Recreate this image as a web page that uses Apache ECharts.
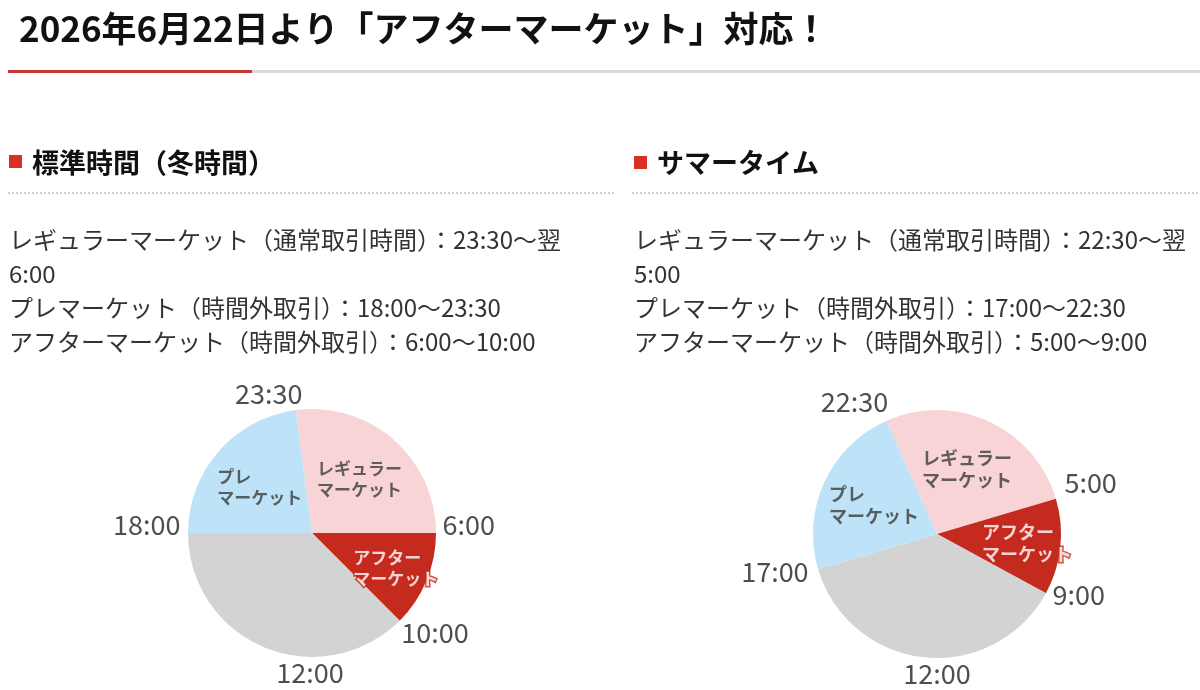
<!DOCTYPE html>
<html>
<head>
<meta charset="utf-8">
<script src="https://cdn.jsdelivr.net/npm/echarts@6/dist/echarts.min.js"></script>
<style>
html, body { margin: 0; padding: 0; background: #fff; }
#main { width: 1200px; height: 690px; }
</style>
</head>
<body>
<div id="main"></div>
<script>
// ---- texts ----
var pageTitle = '2026年6月22日より「アフターマーケット」対応！';
var sectionTitles = ['標準時間（冬時間）', 'サマータイム'];
var winterLines = [
    'レギュラーマーケット（通常取引時間）：23:30〜翌',
    '6:00',
    'プレマーケット（時間外取引）：18:00〜23:30',
    'アフターマーケット（時間外取引）：6:00〜10:00'
];
var summerLines = [
    'レギュラーマーケット（通常取引時間）：22:30〜翌',
    '5:00',
    'プレマーケット（時間外取引）：17:00〜22:30',
    'アフターマーケット（時間外取引）：5:00〜9:00'
];

// ---- pie data (slice widths in hours, as drawn on the clock face) ----
var sliceNames = ['レギュラー\nマーケット', 'アフター\nマーケット', '', 'プレ\nマーケット'];
var winterHours = [6.5, 3, 9, 5.5];
var summerHours = [6.5, 3, 9, 5.5];
// clock position (0 = top) where the first slice starts
var winterStart = 23.5;
var summerStart = 22.4;
// labels at the slice borders
var winterTimes = ['23:30', '6:00', '10:00', '18:00'];
var summerTimes = ['22:30', '5:00', '9:00', '17:00'];
var noonTime = '12:00';
var noonAt = 12;

// ---- styles ----
var sliceColors = ['#f8d4d6', '#c42a1e', '#d3d3d3', '#bee3f8'];
var sliceLabelRadius = [0.58, 0.73, 0, 0.56];
var centers = [[312, 533], [937, 534]];
var pieRadius = 124;
var timeLayout = [
    [['top', [-27, -2]], ['right', [6, -8]], ['right', [1, 12]], ['left', [-7, -8]], ['bottom', [-2, 1]]],
    [['top', [-32, -4]], ['right', [8, -16]], ['right', [6, 2]], ['left', [-9, 3]], ['bottom', [0, 1]]]
];
var sliceFont = [17, 18];

var chart = echarts.init(document.getElementById('main'));

function buildClock(idx, hours, start, times) {
    var series = [];
    var startAngle = 90 - start * 15;
    if (startAngle < -180) startAngle += 360;

    series.push({
        type: 'pie',
        silent: true,
        center: centers[idx],
        radius: pieRadius,
        startAngle: startAngle,
        clockwise: true,
        label: { show: false },
        labelLine: { show: false },
        emphasis: { disabled: true },
        itemStyle: { borderWidth: 0 },
        data: hours.map(function (h, i) {
            return { name: sliceNames[i], value: h, itemStyle: { color: sliceColors[i] } };
        })
    });

    // border time labels, placed on the polar scale
    var pos = start;
    var timeData = [];
    hours.forEach(function (h, i) {
        var lay = timeLayout[idx][i];
        timeData.push({
            name: times[i],
            value: [1, pos % 24],
            label: { position: lay[0], offset: lay[1] }
        });
        pos += h;
    });
    var noonLay = timeLayout[idx][4];
    timeData.push({
        name: noonTime,
        value: [1, noonAt],
        label: { position: noonLay[0], offset: noonLay[1] }
    });
    series.push({
        type: 'scatter',
        coordinateSystem: 'polar',
        polarIndex: idx,
        silent: true,
        symbolSize: 1,
        itemStyle: { color: 'rgba(0,0,0,0)' },
        label: {
            show: true,
            formatter: '{b}',
            distance: 0,
            fontFamily: 'Noto Sans CJK JP',
            fontSize: 27,
            lineHeight: 28,
            color: '#222'
        },
        data: timeData
    });

    // slice captions at mid angle
    var capData = [];
    pos = start;
    hours.forEach(function (h, i) {
        if (sliceNames[i]) {
            var after = i === 1;
            capData.push({
                name: sliceNames[i],
                value: [sliceLabelRadius[i], (pos + h / 2) % 24],
                label: after ? {
                    color: '#fff',
                    textBorderColor: sliceColors[1],
                    textBorderWidth: 3
                } : {}
            });
        }
        pos += h;
    });
    series.push({
        type: 'scatter',
        coordinateSystem: 'polar',
        polarIndex: idx,
        silent: true,
        symbolSize: 1,
        itemStyle: { color: 'rgba(0,0,0,0)' },
        label: {
            show: true,
            formatter: '{b}',
            position: 'inside',
            align: 'left',
            offset: [-sliceFont[idx] * 2.5, 0],
            fontFamily: 'Noto Sans CJK JP',
            fontWeight: 'bold',
            fontSize: sliceFont[idx],
            lineHeight: sliceFont[idx] + 4,
            color: '#3c3c3c'
        },
        data: capData
    });
    return series;
}

var hiddenAxis = {
    axisLine: { show: false },
    axisTick: { show: false },
    axisLabel: { show: false },
    splitLine: { show: false },
    splitArea: { show: false }
};

function angleAxis(i) {
    return Object.assign({ polarIndex: i, type: 'value', min: 0, max: 24, startAngle: 90, clockwise: true }, hiddenAxis);
}
function radiusAxis(i) {
    return Object.assign({ polarIndex: i, type: 'value', min: 0, max: 1 }, hiddenAxis);
}

var bodyText = {
    fontFamily: 'Noto Sans CJK JP',
    fontSize: 24,
    fontWeight: 'normal',
    lineHeight: 34,
    color: '#333'
};
var headText = {
    fontFamily: 'Noto Sans CJK JP',
    fontSize: 27,
    fontWeight: 'bold',
    lineHeight: 30,
    color: '#111'
};

var option = {
    animation: false,
    backgroundColor: '#fff',
    title: [
        {
            text: pageTitle, left: 19, top: 9, padding: 0,
            textStyle: { fontFamily: 'Noto Sans CJK JP', fontSize: 35, fontWeight: 'bold', lineHeight: 40, color: '#111' }
        },
        { text: sectionTitles[0], left: 32, top: 148, padding: 0, textStyle: headText },
        { text: sectionTitles[1], left: 657, top: 148, padding: 0, textStyle: headText },
        { text: winterLines.join('\n'), left: 9, top: 223, padding: 0, textStyle: bodyText },
        { text: summerLines.join('\n'), left: 634, top: 223, padding: 0, textStyle: bodyText }
    ],
    graphic: [
        { type: 'rect', shape: { x: 8, y: 70, width: 1192, height: 3 }, style: { fill: '#d9d9d9' } },
        { type: 'rect', shape: { x: 8, y: 70, width: 244, height: 3 }, style: { fill: '#c33b38' } },
        { type: 'rect', shape: { x: 9, y: 155, width: 13, height: 13 }, style: { fill: '#d93025' } },
        { type: 'rect', shape: { x: 634, y: 156, width: 13, height: 13 }, style: { fill: '#d93025' } },
        { type: 'line', shape: { x1: 8, y1: 193, x2: 614, y2: 193 }, style: { stroke: '#cfcfcf', lineWidth: 2, lineDash: [2, 2] } },
        { type: 'line', shape: { x1: 632, y1: 193, x2: 1200, y2: 193 }, style: { stroke: '#cfcfcf', lineWidth: 2, lineDash: [2, 2] } }
    ],
    polar: [
        { center: centers[0], radius: pieRadius },
        { center: centers[1], radius: pieRadius }
    ],
    angleAxis: [angleAxis(0), angleAxis(1)],
    radiusAxis: [radiusAxis(0), radiusAxis(1)],
    series: buildClock(0, winterHours, winterStart, winterTimes)
        .concat(buildClock(1, summerHours, summerStart, summerTimes))
};

chart.setOption(option);
</script>
</body>
</html>
